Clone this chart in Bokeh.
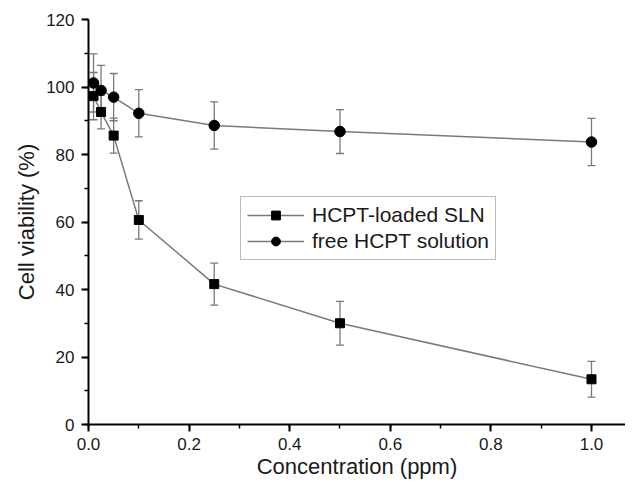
from bokeh.plotting import figure
from bokeh.models import (ColumnDataSource, Whisker, TeeHead, SingleIntervalTicker,
                          PrintfTickFormatter, Legend, LegendItem, Range1d)
from bokeh.embed import file_html
from bokeh.resources import INLINE

# ---- data ----
conc = [0.01, 0.025, 0.05, 0.1, 0.25, 0.5, 1.0]
sln_mean = [97.3, 92.6, 85.6, 60.6, 41.6, 30.0, 13.4]
sln_err = [7.0, 5.0, 5.2, 5.7, 6.2, 6.5, 5.3]
free_mean = [101.2, 99.0, 97.0, 92.2, 88.6, 86.8, 83.7]
free_err = [8.6, 7.4, 7.0, 7.0, 7.0, 6.5, 7.0]
series_names = ["HCPT-loaded SLN", "free HCPT solution"]
x_title = "Concentration (ppm)"
y_title = "Cell viability (%)"

FONT = "Liberation Sans"
TXT = "#1a1a1a"
GRAY = "#7a7a7a"

p = figure(width=625, height=481, output_backend="svg", toolbar_location=None,
           x_range=Range1d(0, 1.0676), y_range=Range1d(0, 120),
           min_border_left=88, min_border_right=0, min_border_top=19,
           min_border_bottom=57, background_fill_color="white",
           border_fill_color="white")
p.grid.visible = False
p.outline_line_color = None

src_sln = ColumnDataSource(dict(x=conc, y=sln_mean,
                                lo=[m - e for m, e in zip(sln_mean, sln_err)],
                                hi=[m + e for m, e in zip(sln_mean, sln_err)]))
src_free = ColumnDataSource(dict(x=conc, y=free_mean,
                                 lo=[m - e for m, e in zip(free_mean, free_err)],
                                 hi=[m + e for m, e in zip(free_mean, free_err)]))

for src in (src_sln, src_free):
    w = Whisker(base="x", lower="lo", upper="hi", source=src, dimension="height",
                line_color=GRAY, line_width=1.3,
                upper_head=TeeHead(size=8, line_color=GRAY, line_width=1.3),
                lower_head=TeeHead(size=8, line_color=GRAY, line_width=1.3),
                level="underlay")
    p.add_layout(w)

l1 = p.line("x", "y", source=src_sln, line_color=GRAY, line_width=1.5)
s1 = p.scatter("x", "y", source=src_sln, marker="square", size=9,
               fill_color="black", line_color="black")
l2 = p.line("x", "y", source=src_free, line_color=GRAY, line_width=1.5)
s2 = p.scatter("x", "y", source=src_free, marker="circle", size=10.5,
               fill_color="black", line_color="black")

legend = Legend(items=[LegendItem(label=series_names[0], renderers=[l1, s1]),
                       LegendItem(label=series_names[1], renderers=[l2, s2])],
                location=(152, 164), orientation="vertical",
                label_text_font=FONT, label_text_font_size="21px",
                label_text_color=TXT, glyph_width=57, glyph_height=22,
                label_height=22, label_standoff=8, spacing=2, padding=6,
                margin=0, border_line_color=GRAY, border_line_width=1.5,
                background_fill_alpha=1.0)
p.add_layout(legend, "center")

# axes
p.xaxis.ticker = SingleIntervalTicker(interval=0.2, num_minor_ticks=2)
p.xaxis.formatter = PrintfTickFormatter(format="%.1f")
p.yaxis.ticker = SingleIntervalTicker(interval=20, num_minor_ticks=2)
p.xaxis.axis_label = x_title
p.yaxis.axis_label = y_title
for ax in (p.xaxis, p.yaxis):
    ax.axis_line_color = "black"
    ax.axis_line_width = 2
    ax.major_tick_line_color = "black"
    ax.major_tick_line_width = 2
    ax.minor_tick_line_color = "black"
    ax.minor_tick_line_width = 1.5
    ax.major_tick_out = 7
    ax.major_tick_in = 0
    ax.minor_tick_out = 4
    ax.minor_tick_in = 0
    ax.major_label_text_font = FONT
    ax.major_label_text_font_size = "17px"
    ax.major_label_text_color = TXT
    ax.major_label_standoff = 7
    ax.axis_label_text_font = FONT
    ax.axis_label_text_font_size = "22px"
    ax.axis_label_text_font_style = "normal"
    ax.axis_label_text_color = TXT
p.xaxis.major_label_standoff = 6
p.xaxis.axis_label_standoff = 1
p.yaxis.axis_label_standoff = 4

open("out.html", "w").write(file_html(p, INLINE))
